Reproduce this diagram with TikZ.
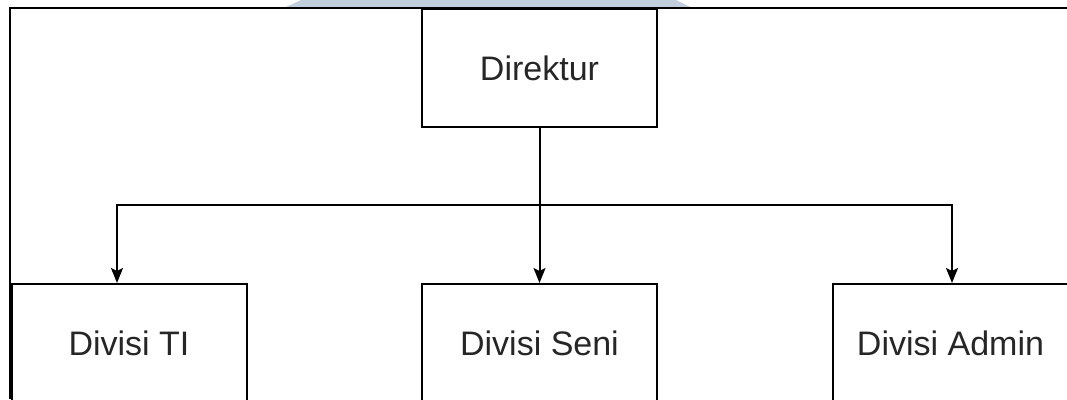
\documentclass[tikz,border=0pt]{standalone}
\usepackage{fontspec}
\setmainfont{Liberation Sans}
\usepackage{tikz}
\usetikzlibrary{arrows.meta,positioning}
\definecolor{wmark}{RGB}{193,207,221}
\tikzset{
  unit/.style={draw, line width=2pt, minimum width=235pt, minimum height=118pt,
    inner sep=0pt, font=\fontsize{34}{40}\selectfont, text=black!85},
  arr/.style={line width=2pt, -{Stealth[length=15pt,width=12pt,inset=3pt]}}
}
\begin{document}
\begin{tikzpicture}[x=1pt,y=-1pt]
\useasboundingbox (0,0) rectangle (1067,399);
\fill[wmark] (286,7) -- (301,0) -- (676,0) -- (690,7) -- cycle;
\draw[line width=2pt] (9.5,399) -- (9.5,8) -- (1067,8);
\node[unit] (dir) at (539.5,68) {Direktur};
\node[unit] (ti) at (129,343) {Divisi TI};
\node[unit] (seni) at (539.5,343) {Divisi Seni};
\node[unit] (admin) at (950.5,343) {Divisi Admin};
\coordinate (bar) at (539.5,205);
\draw[arr] (dir.south) -- (seni.north);
\draw[arr] (bar) -| ([xshift=-12pt]ti.north);
\draw[arr] (bar) -| ([xshift=1.5pt]admin.north);
\end{tikzpicture}
\end{document}
